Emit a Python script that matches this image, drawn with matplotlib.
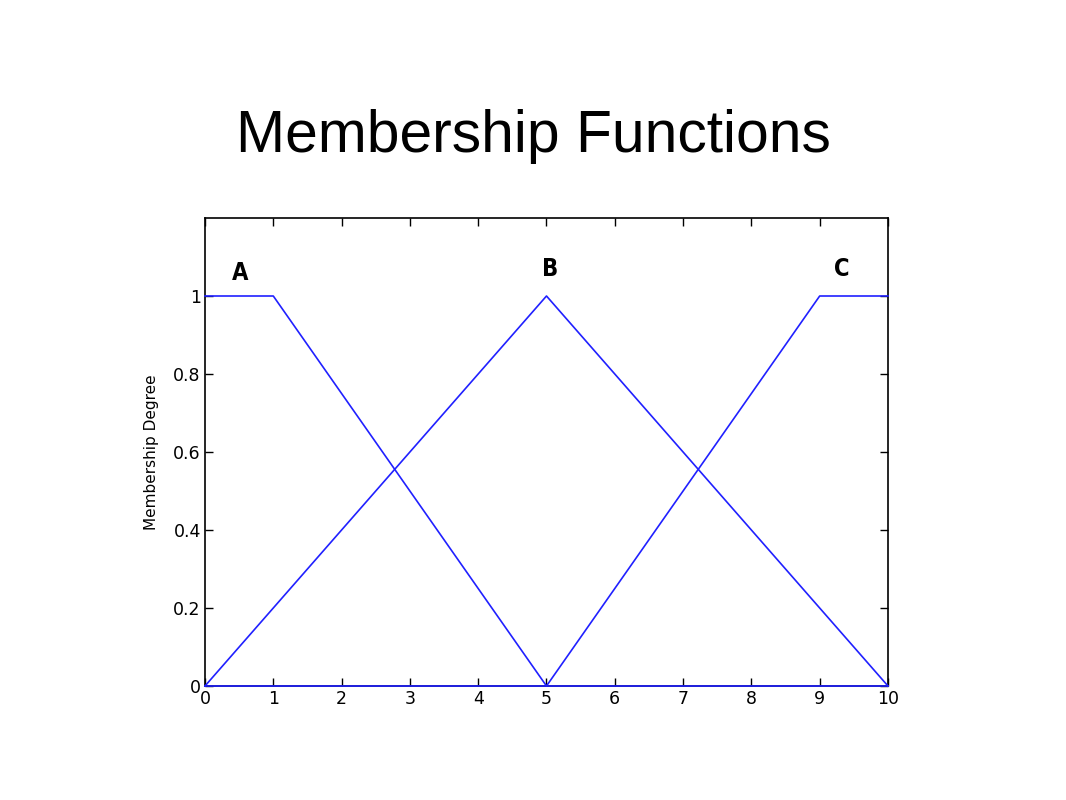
import matplotlib
matplotlib.use("Agg")
import matplotlib.pyplot as plt

x_a = [0, 1, 5, 10]
y_a = [1, 1, 0, 0]
x_b = [0, 5, 10]
y_b = [0, 1, 0]
x_c = [0, 5, 9, 10]
y_c = [0, 0, 1, 1]
labels = ["A", "B", "C"]
label_x = [0.51, 5.06, 9.33]
label_y = [1.06, 1.07, 1.07]
xticks = list(range(0, 11))
yticks = [0, 0.2, 0.4, 0.6, 0.8, 1]
ytick_labels = ["0", "0.2", "0.4", "0.6", "0.8", "1"]

fig = plt.figure(figsize=(10.66, 8), dpi=100)
fig.text(0.5, 0.83, "Membership Functions", ha="center", va="center",
         fontsize=42.3, family="Liberation Sans")
ax = fig.add_axes([0.1923, 0.1425, 0.6407, 0.585])
for xs, ys in [(x_a, y_a), (x_b, y_b), (x_c, y_c)]:
    ax.plot(xs, ys, color="#2020ff", lw=1.2, clip_on=False, zorder=3)
for t, lx, ly in zip(labels, label_x, label_y):
    ax.text(lx, ly, t, ha="center", va="center", fontsize=17,
            fontweight="bold", family="DejaVu Sans", fontstretch="condensed")
ax.set_xlim(0, 10)
ax.set_ylim(0, 1.2)
ax.set_xticks(xticks)
ax.set_yticks(yticks)
ax.set_yticklabels(ytick_labels)
ax.tick_params(direction="in", top=True, right=True, length=6, width=1,
               labelsize=12.5, colors="black", pad=3)
for s in ax.spines.values():
    s.set_linewidth(1.2)
    s.set_color("black")
ax.set_ylabel("Membership Degree", fontsize=11, labelpad=10)
fig.savefig("out.png", dpi=100, facecolor="white")
